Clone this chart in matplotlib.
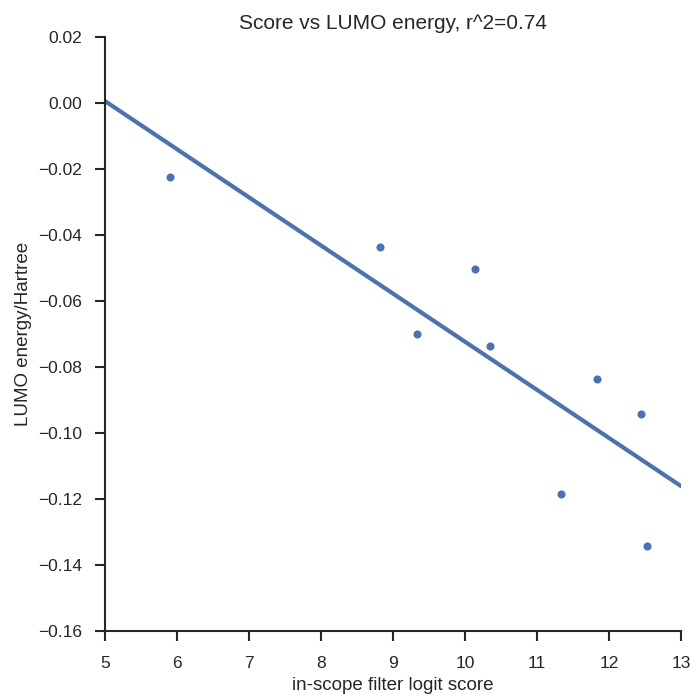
import matplotlib
matplotlib.use("Agg")
import matplotlib.pyplot as plt
import numpy as np

scores = [5.90, 8.82, 9.33, 10.14, 10.35, 11.33, 11.83, 12.44, 12.53]
lumo = [-0.0224, -0.0436, -0.0700, -0.0503, -0.0736, -0.1185, -0.0836, -0.0942, -0.1342]
fit_x = [5.0, 13.0]
fit_y = [0.0006, -0.1161]
title = "Score vs LUMO energy, r^2=0.74"
xlabel = "in-scope filter logit score"
ylabel = "LUMO energy/Hartree"
xticks = [5, 6, 7, 8, 9, 10, 11, 12, 13]
yticks = [0.02, 0.00, -0.02, -0.04, -0.06, -0.08, -0.10, -0.12, -0.14, -0.16]

plt.rcParams['font.family'] = ['Liberation Sans', 'DejaVu Sans']
color = "#4c72b0"
text_color = "#262626"

fig = plt.figure(figsize=(6.9, 6.94), dpi=100)
ax = fig.add_axes([0.152, 0.0908, 0.835, 0.8559])
ax.scatter(scores, lumo, s=34, color=color, zorder=3, linewidths=0)
ax.plot(fit_x, fit_y, color=color, lw=3, solid_capstyle='round')
ax.set_xlim(5, 13)
ax.set_ylim(-0.16, 0.02)
ax.set_xticks(xticks)
ax.set_yticks(yticks)
ax.set_yticklabels([f"{v:.2f}".replace("-", "\u2212") for v in yticks])
for s in ['top', 'right']:
    ax.spines[s].set_visible(False)
for s in ['left', 'bottom']:
    ax.spines[s].set_linewidth(1.5)
    ax.spines[s].set_color(text_color)
ax.tick_params(direction='out', length=7.2, width=1.5, color=text_color,
               labelsize=12.5, labelcolor=text_color, pad=9)
ax.tick_params(axis='x', pad=10.5)
ax.set_title(title, fontsize=15, color=text_color, pad=6)
ax.set_xlabel(xlabel, fontsize=13.5, color=text_color, labelpad=4.5)
ax.set_ylabel(ylabel, fontsize=13.5, color=text_color, labelpad=4.5)
fig.savefig("out.png", dpi=100)
